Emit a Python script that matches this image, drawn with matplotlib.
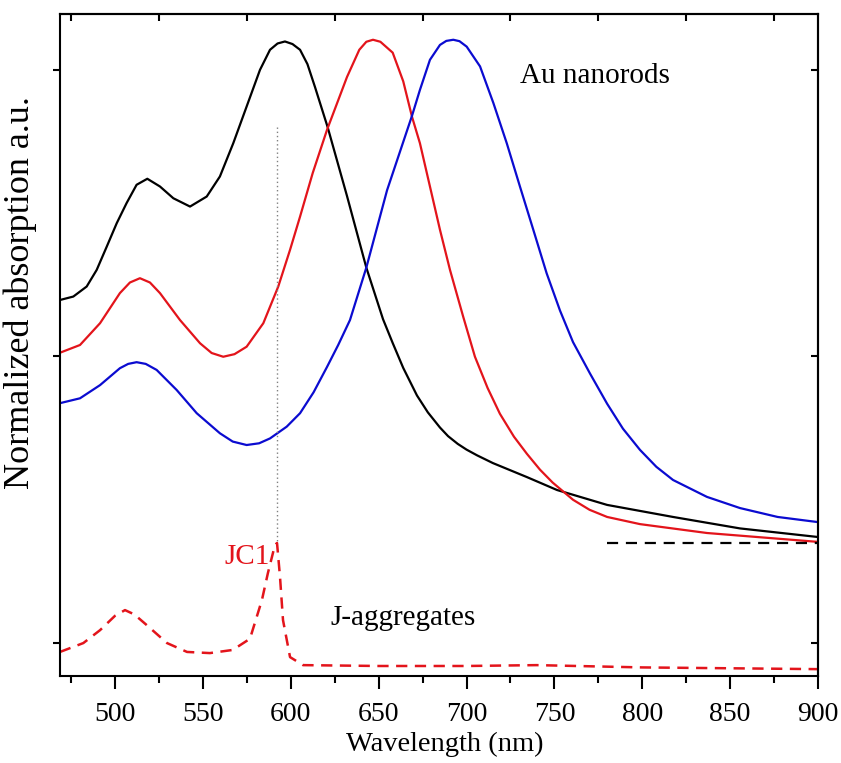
import numpy as np
import matplotlib
matplotlib.use('Agg')
import matplotlib.pyplot as plt

plt.rcParams['font.family'] = ['Liberation Serif', 'DejaVu Serif']

# Au nanorods, three samples (wavelength nm, normalized absorption + offset)
wl_black = [468.7, 476.3, 483.9, 489.6, 495.3, 501, 506.6, 512.3, 518.4, 525.6, 533.2, 542.7,
            552.2, 559.7, 567.3, 574.9, 582.5, 588.2, 592.5, 596.7, 601, 605.3, 609.5, 613.8,
            621, 632, 643, 652.5, 658, 664, 671.8, 678, 684.9, 689.5, 695, 700,
            706, 715, 734.4, 751.5, 780, 817.5, 855.6, 900]
ab_black = [1.197, 1.209, 1.244, 1.302, 1.383, 1.465, 1.535, 1.599, 1.62, 1.593, 1.552, 1.523,
            1.558, 1.628, 1.744, 1.872, 2.0, 2.07, 2.092, 2.099, 2.09, 2.07, 2.02, 1.94,
            1.80, 1.56, 1.31, 1.13, 1.047, 0.96, 0.864, 0.805, 0.752, 0.722, 0.695, 0.675,
            0.655, 0.628, 0.579, 0.534, 0.482, 0.44, 0.40, 0.37]

wl_red = [468.7, 480.1, 491.5, 502.8, 508.5, 514.2, 519.9, 525.6, 537, 548.4, 555, 561.6,
          568, 574.9, 584.4, 592.9, 599.6, 605.3, 612.5, 620.6, 632, 639, 643, 646.8,
          651, 658, 664, 669, 673.5, 679.2, 684.9, 690.6, 698.1, 704.8, 712, 719,
          727, 734.4, 741.8, 749, 760.6, 770, 780, 798.7, 836.8, 900]
ab_red = [1.013, 1.04, 1.116, 1.221, 1.258, 1.273, 1.258, 1.221, 1.127, 1.046, 1.012, 0.999,
          1.008, 1.034, 1.116, 1.244, 1.372, 1.488, 1.64, 1.79, 1.975, 2.07, 2.098, 2.105,
          2.098, 2.06, 1.96, 1.836, 1.744, 1.593, 1.442, 1.302, 1.139, 0.999, 0.89, 0.80,
          0.72, 0.66, 0.605, 0.56, 0.50, 0.465, 0.44, 0.415, 0.384, 0.353]

wl_blue = [468.7, 480.1, 491.5, 502.8, 507.5, 512.3, 517.5, 523.7, 535.1, 546.5, 559.7, 567,
           574.9, 582, 588.2, 597.7, 605.3, 613, 620.6, 627, 633.7, 643, 654.8, 669,
           673.5, 679.2, 684.9, 688.5, 692.5, 696, 700.1, 707.7, 715.3, 722.9, 730.4, 738,
           745.6, 753.2, 760.6, 770.3, 780, 789, 798.7, 808, 817.5, 836.8, 855.6, 877,
           900]
ab_blue = [0.837, 0.854, 0.90, 0.959, 0.974, 0.98, 0.974, 0.953, 0.883, 0.802, 0.732, 0.703,
           0.691, 0.697, 0.714, 0.755, 0.802, 0.875, 0.963, 1.04, 1.127, 1.31, 1.58, 1.84,
           1.93, 2.035, 2.087, 2.101, 2.105, 2.1, 2.081, 2.012, 1.884, 1.744, 1.593, 1.442,
           1.29, 1.16, 1.05, 0.94, 0.835, 0.748, 0.674, 0.615, 0.569, 0.51, 0.471, 0.44,
           0.422]

# JC1 J-aggregates
wl_jc1 = [468.7, 482, 491.5, 500, 505.7, 511, 518, 529.6, 541, 554, 567, 576.8,
          583.6, 587, 591, 592.2, 593.9, 595.6, 599.6, 607, 650, 700, 740, 800,
          850, 900]
ab_jc1 = [-0.031, 0.0, 0.045, 0.095, 0.115, 0.1, 0.063, 0.0, -0.031, -0.035, -0.024, 0.015,
          0.15, 0.244, 0.342, 0.349, 0.23, 0.08, -0.049, -0.077, -0.08, -0.08, -0.077, -0.085,
          -0.088, -0.091]

jc1_peak = 592.2
baseline = 0.349

fig = plt.figure(figsize=(8.41, 7.63), dpi=100)
ax = fig.add_axes([0.0713, 0.114, 0.9014, 0.8677])

red = '#e3141b'
ax.plot(wl_black, ab_black, color='black', lw=1.6)
ax.plot(wl_red, ab_red, color=red, lw=1.6)
ax.plot(wl_blue, ab_blue, color='#0b0bd0', lw=1.6)
ax.plot(wl_jc1, ab_jc1, color=red, lw=1.8, linestyle=(0, (4.5, 3)))
ax.plot([780, 900], [baseline, baseline], color='black', lw=1.6, linestyle=(0, (5, 3.5)))
ax.plot([jc1_peak, jc1_peak], [1.80, baseline], color='gray', lw=1.0, linestyle=(0, (1, 2)))

ax.text(730.4, 1.98, 'Au nanorods', fontsize=21, va='center', ha='left')
ax.text(622.3, 0.087, 'J-aggregates', fontsize=21, va='center', ha='left')
ax.text(588, 0.30, 'JC1', fontsize=21, va='center', ha='right', color=red)

ax.set_xlim(468.7, 900)
ax.set_ylim(-0.115, 2.195)
ax.set_xticks(np.arange(500, 901, 50))
ax.set_xticks(np.arange(475, 900, 50), minor=True)
ax.set_yticks([0, 1, 2])
ax.set_yticklabels([])
ax.tick_params(axis='x', which='major', direction='out', length=9, width=1.5,
               labelsize=20, pad=10, top=False)
ax.tick_params(axis='x', which='minor', direction='out', length=5, width=1.5, top=False)
ax.tick_params(axis='y', direction='out', length=5, width=1.5, right=False)

top = ax.secondary_xaxis('top')
top.set_xticks(np.arange(475, 900, 50))
top.set_xticklabels([])
top.tick_params(direction='in', length=5, width=1.5)
right = ax.secondary_yaxis('right')
right.set_yticks([0, 1, 2])
right.set_yticklabels([])
right.tick_params(direction='in', length=5, width=1.5)

for s in list(ax.spines.values()) + [top.spines['top'], right.spines['right']]:
    s.set_linewidth(1.5)

ax.set_xlabel('Wavelength (nm)', fontsize=20.5)
ax.xaxis.set_label_coords(0.508, -0.085)
ax.set_ylabel('Normalized absorption a.u.', fontsize=26)
ax.yaxis.set_label_coords(-0.03, 0.579)

fig.savefig('out.png', dpi=100)
